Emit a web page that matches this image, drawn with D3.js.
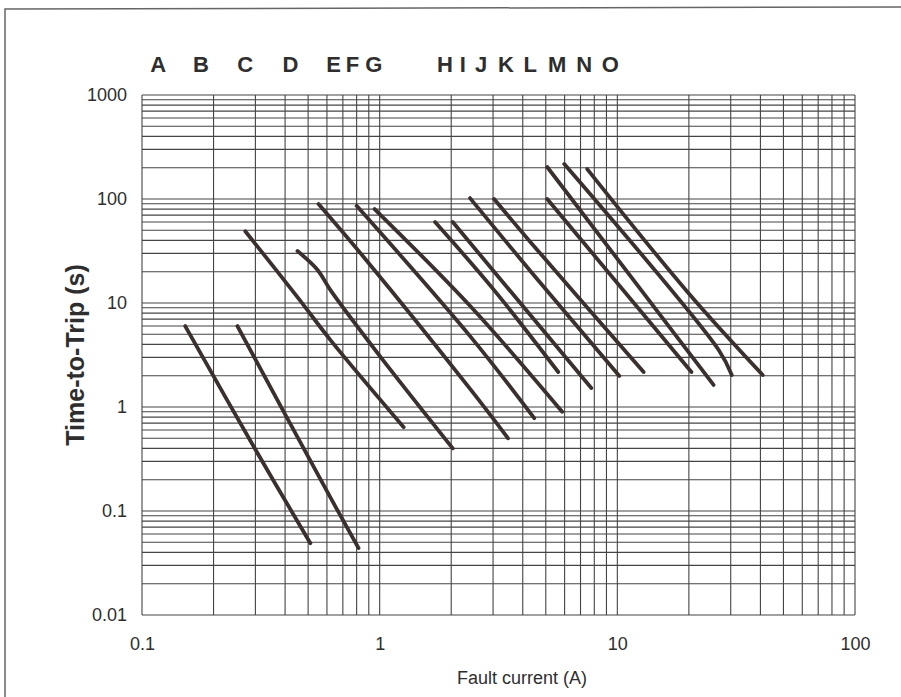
<!DOCTYPE html>
<html>
<head>
<meta charset="utf-8">
<title>Time-to-Trip curves</title>
<script src="https://d3js.org/d3.v7.min.js"></script>
<style>
  body { margin: 0; background: #fff; }
  svg text { font-family: "Liberation Sans", Arial, sans-serif; fill: #2e2e2e; }
</style>
</head>
<body>
<script>
// curve letters and where each letter sits (read as fault current on the x axis)
var curveNames = ["A","B","C","D","E","F","G","H","I","J","K","L","M","N","O"];
var labelCurrent = [0.117,0.177,0.272,0.421,0.64,0.769,0.944,1.88,2.24,2.67,3.4,4.3,5.58,7.26,9.34];

// each curve: fault current (A) and matching time-to-trip (s)
var curveCurrent = [
  [0.152, 0.3, 0.511],
  [0.252, 0.6, 0.815],
  [0.272, 0.451, 0.621, 1.262],
  [0.451, 0.548, 0.621, 0.98, 2.03],
  [0.553, 0.856, 2.42, 3.47],
  [0.8, 2.42, 4.47],
  [0.952, 2.42, 5.86],
  [1.71, 3.03, 5.64],
  [2.03, 7.77],
  [2.4, 4.34, 10.2],
  [3.03, 4.34, 12.9],
  [5.07, 20.5],
  [5.07, 25.4],
  [5.98, 26.7, 30.3],
  [7.47, 19.9, 40.9]
];
var curveTime = [
  [6.0, 0.39, 0.049],
  [6.0, 0.155, 0.044],
  [49, 11.4, 4.4, 0.64],
  [31.6, 20.8, 13.3, 3.3, 0.4],
  [89.5, 27.7, 1.46, 0.5],
  [86, 4.7, 0.78],
  [80, 9.2, 0.9],
  [60, 13.3, 2.17],
  [60, 1.52],
  [102, 19.9, 1.99],
  [100, 37.8, 2.17],
  [100, 2.17],
  [203, 1.63],
  [217, 3.53, 2.03],
  [194, 12.5, 2.03]
];

var xTicks = [0.1, 1, 10, 100];
var yTicks = [0.01, 0.1, 1, 10, 100, 1000];

var W = 901, H = 697;
var mLeft = 142, mRight = 855, mTop = 95, mBottom = 615;

var svg = d3.select("body").append("svg").attr("width", W).attr("height", H);

// scanned page frame
svg.append("path")
  .attr("d", "M5,697 L5,9 L901,7")
  .attr("fill", "none").attr("stroke", "#666").attr("stroke-width", 1.5);

var x = d3.scaleLog().domain([0.1, 100]).range([mLeft, mRight]);
var y = d3.scaleLog().domain([0.01, 1000]).range([mBottom, mTop]);

// log grid: every 1..9 step in each decade
var xGrid = [], yGrid = [];
for (var d = 0.1; d < 99; d *= 10) for (var k = 1; k < 10; k++) xGrid.push(d * k);
xGrid.push(100);
for (var d2 = 0.01; d2 < 999; d2 *= 10) for (var k2 = 1; k2 < 10; k2++) yGrid.push(d2 * k2);
yGrid.push(1000);

var grid = svg.append("g").attr("stroke", "#444").attr("stroke-width", 1.1);
grid.selectAll("line.v").data(xGrid).enter().append("line").attr("class", "v")
  .attr("x1", function(v){ return x(v); }).attr("x2", function(v){ return x(v); })
  .attr("y1", mTop).attr("y2", mBottom);
grid.selectAll("line.h").data(yGrid).enter().append("line").attr("class", "h")
  .attr("y1", function(v){ return y(v); }).attr("y2", function(v){ return y(v); })
  .attr("x1", mLeft).attr("x2", mRight);

// axes (labels only, the grid is the frame)
var xAxis = d3.axisBottom(x).tickValues(xTicks).tickFormat(d3.format("~g")).tickSize(0).tickPadding(22);
var yAxis = d3.axisLeft(y).tickValues(yTicks).tickFormat(d3.format("~g")).tickSize(0).tickPadding(15);
var gx = svg.append("g").attr("transform", "translate(0," + mBottom + ")").call(xAxis);
var gy = svg.append("g").attr("transform", "translate(" + mLeft + ",0)").call(yAxis);
gx.select(".domain").remove();
gy.select(".domain").remove();
svg.selectAll(".tick text").attr("font-size", 18).attr("font-family", "'Liberation Sans', Arial, sans-serif").attr("fill", "#2e2e2e");

// curves
var line = d3.line().x(function(p){ return x(p[0]); }).y(function(p){ return y(p[1]); })
  .curve(d3.curveCatmullRom.alpha(0.5));
svg.append("g").selectAll("path").data(curveNames).enter().append("path")
  .attr("d", function(n, i){ return line(d3.zip(curveCurrent[i], curveTime[i])); })
  .attr("fill", "none").attr("stroke", "#3a302d").attr("stroke-width", 3.8)
  .attr("stroke-linecap", "round").attr("stroke-linejoin", "round");

// curve letters
svg.append("g").selectAll("text").data(curveNames).enter().append("text")
  .attr("x", function(n, i){ return x(labelCurrent[i]); })
  .attr("y", 72)
  .attr("text-anchor", "middle")
  .attr("font-size", 22).attr("font-weight", "bold")
  .text(function(n){ return n; });

// axis titles
svg.append("text")
  .attr("transform", "translate(84,355) rotate(-90)")
  .attr("text-anchor", "middle").attr("font-size", 25).attr("font-weight", "bold")
  .text("Time-to-Trip (s)");
svg.append("text")
  .attr("x", 522).attr("y", 684).attr("text-anchor", "middle").attr("font-size", 18)
  .text("Fault current (A)");
</script>
</body>
</html>
